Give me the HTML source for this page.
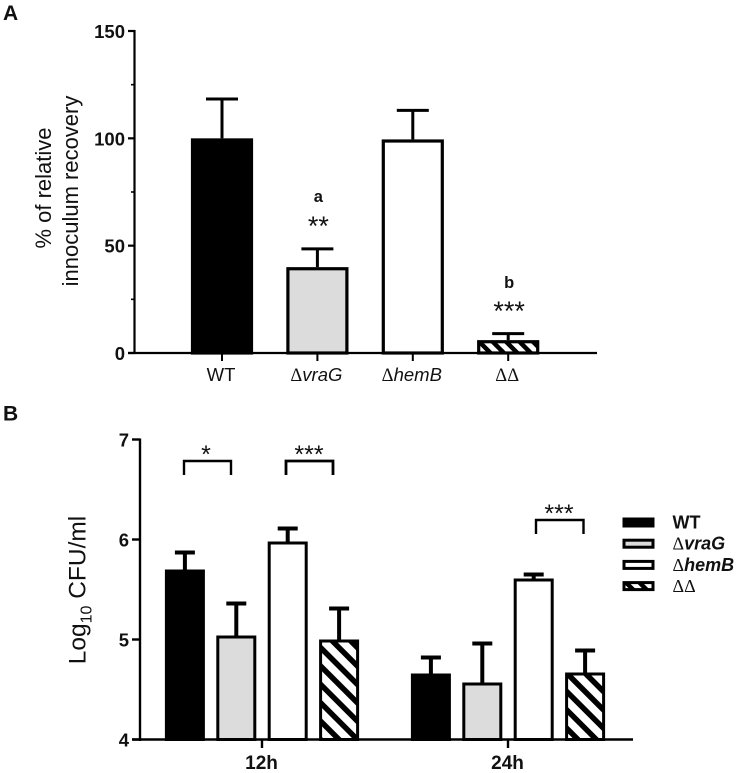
<!DOCTYPE html>
<html>
<head>
<meta charset="utf-8">
<title>Innoculum recovery and CFU charts</title>
<style>
html,body{margin:0;padding:0;background:#fff;}
body{width:740px;height:773px;overflow:hidden;}
svg{display:block;}
text{font-family:"Liberation Sans",sans-serif;fill:#111;}
</style>
</head>
<body>
<svg id="chart" width="740" height="773" viewBox="0 0 740 773" xmlns="http://www.w3.org/2000/svg">
<defs>
<pattern id="hatch" patternUnits="userSpaceOnUse" width="13" height="13" patternTransform="rotate(-45)">
<rect width="13" height="13" fill="#fff"/>
<rect width="5.5" height="13" fill="#000"/>
</pattern>
<pattern id="hatch-small" patternUnits="userSpaceOnUse" width="9.5" height="9.5" patternTransform="rotate(-45)">
<rect width="9.5" height="9.5" fill="#fff"/>
<rect width="4.5" height="9.5" fill="#000"/>
</pattern>
</defs>
</svg>
<script>
// Panel A data
const aCategories = ['WT', 'vraG', 'hemB', 'ΔΔ'];
const aValues = [100, 40, 99.5, 6];
const aErrorTops = [118.3, 48.5, 113, 9];
const aTicks = [0, 50, 100, 150];
const aMinorTicks = [25, 75, 125];
const aSignificance = ['', '**', '', '***'];
const aLetters = ['', 'a', '', 'b'];

// Panel B data
const bGroups = ['12h', '24h'];
const bSeries = ['WT', 'vraG', 'hemB', 'ΔΔ'];
const bValues12h = [5.7, 5.04, 5.98, 5.0];
const bErrorTops12h = [5.87, 5.36, 6.11, 5.31];
const bValues24h = [4.66, 4.57, 5.61, 4.67];
const bErrorTops24h = [4.82, 4.96, 5.65, 4.89];
const bTicks = [4, 5, 6, 7];

const svg = document.getElementById('chart');
const NS = 'http://www.w3.org/2000/svg';
const fills = ['#000', '#dcdcdc', '#fff', 'url(#hatch)'];

function add(tag, attrs, parent, text) {
  const el = document.createElementNS(NS, tag);
  for (const k in attrs) el.setAttribute(k, attrs[k]);
  if (text !== undefined) el.textContent = text;
  (parent || svg).appendChild(el);
  return el;
}
function line(x1, y1, x2, y2, w, parent) {
  return add('line', {x1, y1, x2, y2, stroke: '#000', 'stroke-width': w}, parent);
}
function delta(parent, label, attrs, italic) {
  const t = add('text', attrs, parent);
  const d = add('tspan', {'font-family': '"Liberation Serif",serif', 'font-size': attrs['font-size'], 'font-style': 'normal', 'font-weight': 'normal'}, t, '\u0394');
  
  
  add('tspan', {'font-style': italic ? 'italic' : 'normal'}, t, label);
  return t;
}
function deltaLabel(parent, cat, attrs) {
  if (cat === 'ΔΔ') {
    const t = add('text', Object.assign({}, attrs, {'font-family': '"Liberation Serif",serif', 'font-weight': 'normal'}), parent, 'ΔΔ');
    t.style.fontFamily = '"Liberation Serif",serif';
    return t;
  }
  if (cat === 'WT') return add('text', attrs, parent, 'WT');
  return delta(parent, cat, attrs, true);
}

// Panel labels
const labelA = add('text', {x: 3, y: 20, 'font-size': 21, 'font-weight': 'bold'}, svg, 'A');


const labelB = add('text', {x: 3, y: 420.5, 'font-size': 21, 'font-weight': 'bold'}, svg, 'B');



// Panel A
const aY = v => 353 - v * 322 / 150;
const aX = i => 222 + i * 95.4;
const groupA = add('g', {});



aCategories.forEach((cat, i) => {
  const cx = aX(i);
  const err = add('g', {}, groupA);
  
  
  line(cx, aY(aErrorTops[i]), cx, aY(aValues[i]), 3, err);
  line(cx - 16, aY(aErrorTops[i]), cx + 16, aY(aErrorTops[i]), 3, err);
  const bar = add('rect', {x: cx - 29.5, y: aY(aValues[i]) + 1.6, width: 59, height: aY(0) - aY(aValues[i]) - 1.6, fill: i === 3 ? 'url(#hatch-small)' : fills[i], stroke: '#000', 'stroke-width': 3.2}, groupA);
  
  
  const tick = line(cx, 353, cx, 361, 2, groupA);
  
  
  const lab = deltaLabel(groupA, cat, {x: cx - 1, y: 381, 'font-size': 18.5, 'text-anchor': 'middle', fill: '#333'});
  
  
  if (aSignificance[i]) {
    const s = add('text', {x: cx + 1, y: i === 1 ? 235 : 320, 'font-size': 27, 'text-anchor': 'middle', 'font-weight': 'normal'}, groupA, aSignificance[i]);
    
    
    const l = add('text', {x: cx + 1, y: i === 1 ? 202 : 288, 'font-size': 16.5, 'text-anchor': 'middle', 'font-weight': 'bold'}, groupA, aLetters[i]);
    
    
  }
});
const aAxisY = line(134.5, aY(150) - 1, 134.5, 354, 2.2, groupA);


const aAxisX = line(128, 353, 597, 353, 2.2, groupA);


aTicks.forEach(v => {
  const t = line(128, aY(v), 135, aY(v), 2.2, groupA);
  
  
  const l = add('text', {x: 125, y: aY(v) + 7, 'font-size': 18.5, 'font-weight': 'bold', 'text-anchor': 'end'}, groupA, v);
  
  
});
aMinorTicks.forEach(v => {
  const t = line(131, aY(v), 135, aY(v), 1.6, groupA);
  
  
});
const aTitle1 = add('text', {transform: 'translate(51,188) rotate(-90)', 'font-size': 22, 'text-anchor': 'middle', fill: '#333'}, groupA, '% of relative');


const aTitle2 = add('text', {transform: 'translate(78,191) rotate(-90)', 'font-size': 22, 'text-anchor': 'middle', fill: '#333'}, groupA, 'innoculum recovery');



// Panel B
const bY = v => 739.5 - (v - 4) * 100;
const bCenters = [262, 508];
const bX = (g, i) => bCenters[g] + (i - 1.5) * 51.4;
const bVals = [bValues12h, bValues24h];
const bErrs = [bErrorTops12h, bErrorTops24h];
const groupB = add('g', {});



bGroups.forEach((g, gi) => {
  bSeries.forEach((s, i) => {
    const cx = bX(gi, i);
    const v = bVals[gi][i];
    const e = bErrs[gi][i];
    const err = add('g', {}, groupB);
    
    
    line(cx, bY(e), cx, bY(v), 4, err);
    line(cx - 10, bY(e), cx + 10, bY(e), 4, err);
    const bar = add('rect', {x: cx - 18.5, y: bY(v) + 1.5, width: 37, height: bY(4) - bY(v) - 1.5, fill: fills[i], stroke: '#000', 'stroke-width': 3}, groupB);
    
    
  });
  const tick = line(bCenters[gi], 739, bCenters[gi], 748, 2.4, groupB);
  
  
  const lab = add('text', {x: bCenters[gi] - 0.5, y: 769, 'font-size': 19, 'font-weight': 'bold', 'text-anchor': 'middle'}, groupB, g);
  
  
});
const bAxisY = line(140, bY(7) - 1, 140, 741, 2.4, groupB);


const bAxisX = line(132, 739.5, 633, 739.5, 2.4, groupB);


bTicks.forEach(v => {
  const t = line(132, bY(v), 140, bY(v), 2.4, groupB);
  
  
  const l = add('text', {x: 129, y: bY(v) + 7, 'font-size': 18.5, 'font-weight': 'bold', 'text-anchor': 'end'}, groupB, v);
  
  
});
const bTitle = add('text', {transform: 'translate(85.5,590) rotate(-90)', 'font-size': 24.5, 'text-anchor': 'middle', fill: '#333'}, groupB);


add('tspan', {}, bTitle, 'Log');
add('tspan', {'font-size': 16, dy: 6}, bTitle, '10');
add('tspan', {dy: -6}, bTitle, ' CFU/ml');

// Significance brackets
function bracket(name, x1, x2, stars, starX, w) {
  const b = add('g', {}, groupB);
  
  
  const yTop = name === 'bracket-24h' ? 520 : 461;
  add('path', {d: 'M' + x1 + ' ' + (yTop + 14) + 'V' + yTop + 'H' + x2 + 'V' + (yTop + 14), fill: 'none', stroke: '#000', 'stroke-width': w}, b);
  add('text', {x: starX, y: yTop + 2, 'font-size': 25, 'text-anchor': 'middle'}, b, stars);
}
bracket('bracket-12h-a', 184, 231, '*', 206, 2.4);
bracket('bracket-12h-b', 286, 333, '***', 309, 2.8);
bracket('bracket-24h', 536, 583.5, '***', 559, 2.4);

// Legend
const legend = add('g', {});


bSeries.forEach((s, i) => {
  const y = 522.5 + i * 21.2;
  const entry = add('g', {}, legend);
  
  
  add('rect', {x: 624, y: y - 3.5, width: 29, height: 7, fill: i === 3 ? 'url(#hatch-small)' : fills[i], stroke: '#000', 'stroke-width': 3}, entry);
  deltaLabel(entry, s, {x: 672.5, y: y + 6, 'font-size': 18, 'font-weight': 'bold', fill: '#222'});
});
</script>
</body>
</html>
